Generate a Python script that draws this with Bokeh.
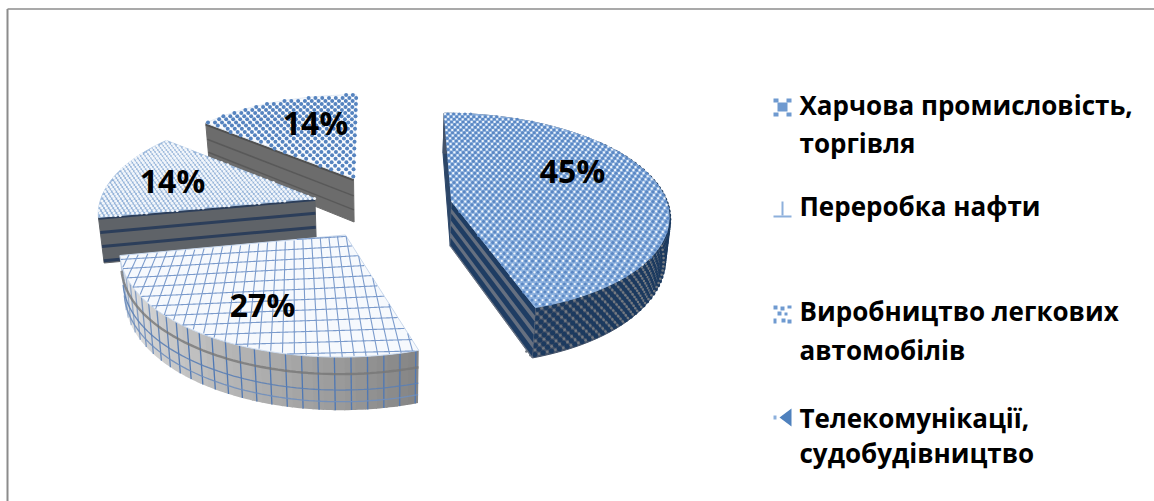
import numpy as np
from bokeh.plotting import figure
from bokeh.models import Range1d
from bokeh.core.properties import value
from bokeh.embed import file_html
from bokeh.resources import INLINE

# ---- data -----------------------------------------------------------------
shares = [45, 27, 14, 14]
legend_lines = [
    ["Харчова промисловість,", "торгівля"],
    ["Переробка нафти"],
    ["Виробництво легкових", "автомобілів"],
    ["Телекомунікації,", "судобудівництво"],
]

# ---- exploded 3-D pie geometry ---------------------------------------------
W, H = 1154, 501
PX, PY = 382.0, 206.0      # screen position of the pie axis
RX, RY = 216.0, 100.0      # projected radii
PERSP = 0.12               # foreshortening along the depth direction
EXPLODE_X = 0.326          # slice pull-out, in radii, across the view
EXPLODE_Y = 0.32           # slice pull-out, in radii, along the view
THICK = 45.0               # pie height in pixels
TAPER = 0.02               # inward lean of the lower rim
TEXT_SHIFT = 13            # baseline correction for the svg text run

FONT = value("Open Sans")

fracs = np.array(shares, dtype=float) / sum(shares)
ends = np.cumsum(fracs) * 2 * np.pi
starts = ends - fracs * 2 * np.pi
mids = (starts + ends) / 2
offs = [(EXPLODE_X * np.sin(m), EXPLODE_Y * np.cos(m)) for m in mids]


def proj(X, Y, z=0.0):
    """Map plane coordinates and a height fraction (0 top, 1 bottom) to the screen."""
    X, Y = np.asarray(X, float), np.asarray(Y, float)
    s = 1.0 / (1.0 + PERSP * Y)
    x = PX + RX * X * s
    y = PY - RY * Y * s + THICK * z * s
    x = PX + (x - PX) * (1 - TAPER * z)
    return x, y


def rim(i, theta, r=1.0):
    ox, oy = offs[i]
    return ox + r * np.sin(theta), oy + r * np.cos(theta)


def inside(i, X, Y):
    ox, oy = offs[i]
    u, v = X - ox, Y - oy
    ang = np.mod(np.arctan2(u, v), 2 * np.pi)
    return (u * u + v * v <= 1.0) & (ang >= starts[i]) & (ang <= ends[i])


def top_outline(i, n=90):
    th = np.linspace(starts[i], ends[i], n)
    X, Y = rim(i, th)
    X = np.concatenate([[offs[i][0]], X])
    Y = np.concatenate([[offs[i][1]], Y])
    return proj(X, Y)


def radial_strip(i, theta, z0, z1):
    """Quad on a cut face running from the slice tip to the rim."""
    ox, oy = offs[i]
    X1, Y1 = rim(i, theta)
    xa, ya = proj([ox, X1], [oy, Y1], z0)
    xb, yb = proj([X1, ox], [Y1, oy], z1)
    return list(xa) + list(xb), list(ya) + list(yb)


def rim_band(i, t0, t1, z0=0.0, z1=1.0, n=70):
    th = np.linspace(t0, t1, n)
    X, Y = rim(i, th)
    xa, ya = proj(X, Y, z0)
    xb, yb = proj(X[::-1], Y[::-1], z1)
    return np.concatenate([xa, xb]), np.concatenate([ya, yb])


p = figure(width=W, height=H, x_range=Range1d(0, W), y_range=Range1d(H, 0),
           toolbar_location=None, output_backend="svg", min_border=0)
p.axis.visible = False
p.grid.visible = False
p.outline_line_color = None
p.background_fill_color = "white"
p.border_fill_color = "white"

# chart frame: only the top and left edges are drawn
p.line([7, 7], [H, 8.5], line_color="#8c8c8c", line_width=2)
p.line([7, W], [8.5, 8.5], line_color="#8c8c8c", line_width=1.6)


def staggered(i, step_x, step_y, size, color, phase=0.0):
    """Staggered dot texture laid out on the plane of slice i."""
    dx, dy = step_x / RX, step_y / RY
    xs = np.arange(-2.0, 2.0, dx)
    ys = np.arange(-1.6, 1.6, dy)
    XX, YY = np.meshgrid(xs, ys)
    XX = XX + (np.arange(len(ys)) % 2)[:, None] * dx / 2 + phase * dx
    mask = inside(i, XX, YY)
    x, y = proj(XX[mask], YY[mask])
    p.scatter(x, y, size=size, marker="circle", fill_color=color, line_color=None)


# ---- slice 4 (back) --------------------------------------------------------
i = 3
xs, ys = radial_strip(i, starts[i], 0, 1)
p.patch(xs, ys, fill_color="#6c6c6c", line_color="#6c6c6c")
for z, c, w in [(0.03, "#505050", 2.5), (0.40, "#595959", 1.5), (0.72, "#595959", 1.5)]:
    xs, ys = radial_strip(i, starts[i], z, z)
    p.line(xs[:2], ys[:2], line_color=c, line_width=w)
xs, ys = top_outline(i)
p.patch(xs, ys, fill_color="#fbfcfe", line_color="#dfe8f3")
staggered(i, 7.8, 3.9, 4.0, "#5583bf")

# ---- slice 3 (left) --------------------------------------------------------
i = 2
xs, ys = radial_strip(i, starts[i], 0, 1)
p.patch(xs, ys, fill_color="#5f6368", line_color="#5f6368")
for z in [0.02, 0.33, 0.64, 0.95]:
    xs, ys = radial_strip(i, starts[i], z, z)
    p.line(xs[:2], ys[:2], line_color="#2c3e5a", line_width=3)
xs, ys = top_outline(i)
p.patch(xs, ys, fill_color="#93b2d8", line_color="#a9c2e0")
staggered(i, 4.6, 2.4, 3.0, "#f2f6fb")

# ---- slice 1 (right) -------------------------------------------------------
i = 0
xs, ys = radial_strip(i, starts[i], 0, 1)
p.patch(xs, ys, fill_color="#2c4668", line_color="#2c4668")
xs, ys = rim_band(i, starts[i], ends[i])
p.patch(xs, ys, fill_color="#46546a", line_color="#46546a")
# woven texture on the outer wall
th = np.arange(np.radians(50), ends[i], 8.4 / RX)
for row, z in enumerate(np.arange(0.04, 1.0, 0.09)):
    shift = (row % 2) * 4.2 / RX
    X, Y = rim(i, th + shift)
    x, y = proj(X, Y, z)
    p.scatter(x, y, size=5.0, marker="circle", fill_color="#1c3a5f", line_color=None)
    X, Y = rim(i, th + shift + 4.2 / RX)
    x, y = proj(X, Y, z)
    p.scatter(x, y, size=2.6, marker="circle", fill_color="#747a82", line_color=None)
xs, ys = radial_strip(i, ends[i], 0, 1)
p.patch(xs, ys, fill_color="#667080", line_color="#667080")
for z0 in [0.0, 0.27, 0.54, 0.81]:
    xs, ys = radial_strip(i, ends[i], z0, z0 + 0.16)
    p.patch(xs, ys, fill_color="#1f3d63", line_color=None)
xs, ys = top_outline(i)
p.patch(xs, ys, fill_color="#8eb2df", line_color="#8eb2df")
staggered(i, 6.4, 3.3, 3.0, "#5a87c3")
staggered(i, 6.4, 3.3, 2.2, "#f2f7fd", phase=0.5)

# ---- slice 2 (front) -------------------------------------------------------
i = 1
edges = np.linspace(starts[i], ends[i], 41)
ramp = np.interp(edges[:-1], [starts[i], starts[i] + 0.5, starts[i] + 1.1, ends[i]],
                 [0x86, 0xa8, 0xca, 0xee])
for t0, t1, g in zip(edges[:-1], edges[1:], ramp):
    xs, ys = rim_band(i, t0, t1 + 0.005, n=4)
    g = int(g)
    p.patch(xs, ys, fill_color=f"#{g:02x}{g:02x}{g:02x}", line_color=None)
# grid continues down the outer wall, fading toward the lit left end
for t in np.arange(starts[i] + 0.012, ends[i], 0.065):
    X, Y = rim(i, np.array([t, t]))
    x, y = proj(X, Y, np.array([0.0, 1.0]))
    fade = np.interp(t, [starts[i] + 1.0, ends[i]], [1.0, 0.3])
    p.line(x, y, line_color="#4f78b4", line_width=1.3, line_alpha=fade)
for z, c, w, al in [(0.32, "#777777", 2.4, 0.8), (0.62, "#5b7fb5", 1.3, 0.9), (0.84, "#6f8ebc", 1.3, 0.9)]:
    th = np.linspace(starts[i], ends[i], 70)
    X, Y = rim(i, th)
    x, y = proj(X, Y, z)
    p.line(x, y, line_color=c, line_width=w, line_alpha=al)
xs, ys = top_outline(i)
p.patch(xs, ys, fill_color="#f6f9fd", line_color="#c9d8ec")


def grid_line(x0, y0, x1, y1, color="#7b9bcc", width=1.1):
    """Draw the part of a screen-space segment that falls on the front slice's top face."""
    t = np.linspace(0, 1, 500)
    sx, sy = x0 + (x1 - x0) * t, y0 + (y1 - y0) * t
    # invert the projection
    ny = (PY - sy) / RY
    Y = ny / (1 - PERSP * ny)
    X = (sx - PX) / RX * (1 + PERSP * Y)
    m = inside(1, X, Y)
    if m.any():
        k = np.nonzero(m)[0]
        p.line(sx[k[0]:k[-1] + 1], sy[k[0]:k[-1] + 1], line_color=color, line_width=width)


VX, VY = 293.0, -80.0
for xb in np.arange(-140.0, 760.0, 14.0):
    grid_line(VX, VY, xb, 430.0)
yy = 232.0
step = 9.0
while yy < 372:
    grid_line(100.0, yy + 10.0, 440.0, yy - 12.0 + (yy - 232.0) * 0.12)
    yy += step
    step += 0.12

# ---- value labels ----------------------------------------------------------
label_x = [572, 262, 172, 315]
label_y = [183, 317, 193, 135]
p.text(label_x, [y - TEXT_SHIFT for y in label_y], text=[f"{v}%" for v in shares],
       text_font=FONT, text_font_style="bold", text_font_size="32px", text_color="black",
       text_align="center", text_baseline="alphabetic")

# ---- legend ----------------------------------------------------------------
KX = 773
p.quad(left=[KX + a for a in (0, 13, 0, 13, 4)], right=[KX + a for a in (5, 18, 5, 18, 14)],
       top=[98, 98, 112, 112, 102], bottom=[102, 102, 116, 116, 111],
       fill_color="#6f9ad0", line_color=None)
p.quad(left=[KX + 8, KX], right=[KX + 10, KX + 18], top=[201, 215], bottom=[215, 217],
       fill_color="#8db0dc", line_color=None)
p.quad(left=[KX + a for a in (0, 7, 14, 4, 11, 0, 8, 14)],
       right=[KX + a for a in (4, 11, 18, 8, 14, 3, 12, 18)],
       top=[305, 306, 305, 311, 312, 318, 318, 319],
       bottom=[309, 310, 308, 315, 315, 323, 322, 323],
       fill_color="#6f9ad0", line_color=None)
p.patch([KX + 18, KX + 18, KX + 6], [408, 426, 417], fill_color="#4f81bd", line_color=None)
p.quad(left=[KX], right=[KX + 3], top=[415], bottom=[419], fill_color="#8db0dc", line_color=None)

TX = 799
baselines = [[117, 155], [218], [323, 362], [430, 465]]
for lines, ys_ in zip(legend_lines, baselines):
    p.text([TX] * len(lines), [y - TEXT_SHIFT for y in ys_], text=lines, text_font=FONT,
           text_font_style="bold", text_font_size="26px", text_color="black",
           text_align="left", text_baseline="alphabetic")

open("out.html", "w").write(file_html(p, INLINE))
